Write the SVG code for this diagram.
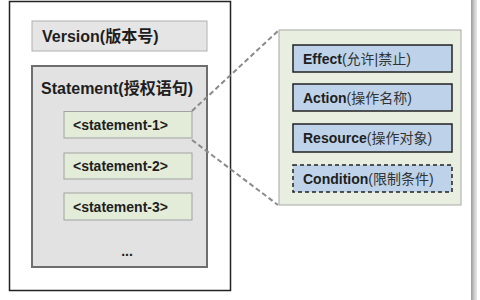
<svg xmlns="http://www.w3.org/2000/svg" width="480" height="300" viewBox="0 0 480 300">
<defs>
<linearGradient id="edge" x1="0" y1="0" x2="1" y2="0">
<stop offset="0" stop-color="#9a9a9a"/>
<stop offset="0.5" stop-color="#c8c8c8"/>
<stop offset="1" stop-color="#e8e8e8"/>
</linearGradient>
<style>
text{font-family:"Liberation Sans","Noto Sans CJK SC",sans-serif;fill:#1e1e1e}
.t{font-size:16px;font-weight:bold}
.s{font-size:14px;font-weight:bold}
.n{font-weight:normal;fill:#333}
.stmt{fill:#e2ecd8;stroke:#a2a2a2;stroke-width:1}
.attr{fill:#bed3ea;stroke:#222;stroke-width:1.5}
.conn{fill:none;stroke:#8a8a8a;stroke-width:2;stroke-dasharray:5 3}
</style>
</defs>
<rect x="0" y="0" width="480" height="300" fill="#fff"/>
<rect x="471" y="0" width="6" height="300" fill="url(#edge)"/>
<g id="policy">
<rect x="9.5" y="1.5" width="221" height="289" fill="#fff" stroke="#222" stroke-width="1.5"/>
</g>
<g id="version">
<rect x="32" y="21" width="175" height="30" fill="#e5e5e5" stroke="#b0b0b0" stroke-width="1"/>
<text class="t" x="42" y="42">Version(版本号)</text>
</g>
<g id="statement">
<rect x="32" y="66" width="175" height="201" fill="#e2e2e2" stroke="#6e6e6e" stroke-width="2"/>
<text class="t" x="41" y="93.5">Statement(授权语句)</text>
</g>
<g id="statement-1">
<rect class="stmt" x="64" y="111.5" width="128" height="26.5"/>
<text class="s" x="73" y="130">&lt;statement-1&gt;</text>
</g>
<g id="statement-2">
<rect class="stmt" x="64" y="153" width="128" height="26"/>
<text class="s" x="73" y="171">&lt;statement-2&gt;</text>
</g>
<g id="statement-3">
<rect class="stmt" x="64" y="193" width="128" height="27"/>
<text class="s" x="73" y="211.5">&lt;statement-3&gt;</text>
</g>
<g id="more">
<text class="s" x="127" y="256" text-anchor="middle">...</text>
</g>
<g id="connectors">
<line class="conn" x1="192" y1="111" x2="279" y2="30"/>
<line class="conn" x1="192" y1="140" x2="278" y2="205"/>
</g>
<g id="detail">
<rect x="279" y="30" width="182" height="175" fill="#e9efe0" stroke="#a8a8a8" stroke-width="1"/>
</g>
<g id="effect">
<rect class="attr" x="293" y="45" width="159" height="27"/>
<text class="s" x="303" y="63.5">Effect<tspan class="n">(允许|禁止)</tspan></text>
</g>
<g id="action">
<rect class="attr" x="293" y="84" width="159" height="27"/>
<text class="s" x="303" y="102.5">Action<tspan class="n">(操作名称)</tspan></text>
</g>
<g id="resource">
<rect class="attr" x="293" y="124" width="159" height="28"/>
<text class="s" x="303" y="143">Resource<tspan class="n">(操作对象)</tspan></text>
</g>
<g id="condition">
<rect class="attr" x="293" y="165" width="159" height="27" stroke-dasharray="4 3"/>
<text class="s" x="303" y="183.5">Condition<tspan class="n">(限制条件)</tspan></text>
</g>
</svg>
